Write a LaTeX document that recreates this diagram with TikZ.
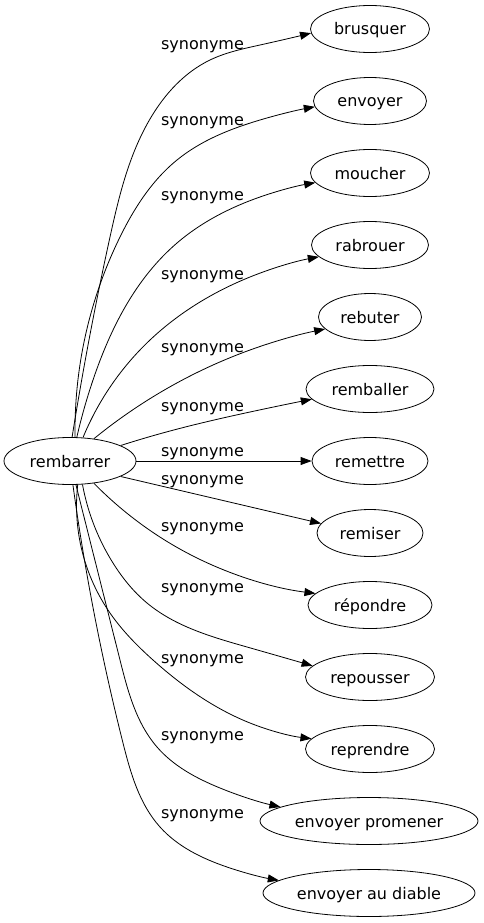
\documentclass[tikz,border=0pt]{standalone}
\usepackage{fontspec}
\setmainfont{DejaVu Sans}
\usetikzlibrary{shapes.geometric,arrows.meta,hobby}
\begin{document}
\begin{tikzpicture}[x=1pt,y=-1pt,
  every node/.style={font=\fontsize{16}{19}\selectfont},
  word/.style={ellipse, draw, line width=0.8pt, inner sep=0pt, minimum height=47pt, text height=12pt, text depth=0pt},
  rel/.style={anchor=base, inner sep=0pt},
  syn/.style={line width=0.8pt, -{Triangle[length=11pt,width=8pt]}},
]
\useasboundingbox (0,0) rectangle (484,923);
\node[word, minimum width=132pt] (src) at (70,461) {rembarrer};
\node[word, minimum width=119pt] (t1) at (370,29) {brusquer};
\node[word, minimum width=113pt] (t2) at (370,101) {envoyer};
\node[word, minimum width=119pt] (t3) at (370,173) {moucher};
\node[word, minimum width=117pt] (t4) at (370,245) {rabrouer};
\node[word, minimum width=103pt] (t5) at (370,317) {rebuter};
\node[word, minimum width=128pt] (t6) at (370,389) {remballer};
\node[word, minimum width=116pt] (t7) at (370,461) {remettre};
\node[word, minimum width=106pt] (t8) at (370,533) {remiser};
\node[word, minimum width=124pt] (t9) at (370,605) {répondre};
\node[word, minimum width=129pt] (t10) at (370,677) {repousser};
\node[word, minimum width=129pt] (t11) at (370,749) {reprendre};
\node[word, minimum width=218pt] (t12) at (369,821) {envoyer promener};
\node[word, minimum width=212pt] (t13) at (369,893) {envoyer au diable};

\draw[syn, use Hobby shortcut] (src.85) .. (110,237) .. (150,119) .. (210,60) .. (260,45) .. (t1.184);
\draw[syn, use Hobby shortcut] (src.78) .. (120,237) .. (177,160) .. (260,120) .. (t2.186);
\draw[syn, use Hobby shortcut] (src.74) .. (93,380) .. (177,243) .. (260,197) .. (t3.190);
\draw[syn, use Hobby shortcut] (src.61) .. (150,340) .. (250,277) .. (t4.193);
\draw[syn, use Hobby shortcut] (src.43) .. (137,407) .. (250,350) .. (t5.195);
\draw[syn, use Hobby shortcut] (src.17) .. (170,431) .. (250,412) .. (t6.190);
\draw[syn] (src.east) -- (t7.west);
\draw[syn] (src.-17) -- (t8.169);
\draw[syn, use Hobby shortcut] (src.-43) .. (123,510) .. (197,558) .. (t9.168);
\draw[syn, use Hobby shortcut] (src.-62) .. (113,563) .. (147,603) .. (247,647) .. (t10.169);
\draw[syn, use Hobby shortcut] (src.-72) .. (110,613) .. (153,660) .. (250,723) .. (t11.170);
\draw[syn, use Hobby shortcut] (src.-76) .. (120,660) .. (157,747) .. (220,788) .. (t12.171);
\draw[syn, use Hobby shortcut] (src.-83) .. (123,743) .. (160,827) .. (227,867) .. (t13.172);

\node[rel] (l1) at (202.5,50) {synonyme};
\node[rel] (l2) at (202.5,125) {synonyme};
\node[rel] (l3) at (202.5,200) {synonyme};
\node[rel] (l4) at (202.5,279) {synonyme};
\node[rel] (l5) at (202.5,352) {synonyme};
\node[rel] (l6) at (202.5,411) {synonyme};
\node[rel] (l7) at (202.5,456) {synonyme};
\node[rel] (l8) at (202.5,484) {synonyme};
\node[rel] (l9) at (202.5,531) {synonyme};
\node[rel] (l10) at (202.5,592) {synonyme};
\node[rel] (l11) at (202.5,663) {synonyme};
\node[rel] (l12) at (202.5,740) {synonyme};
\node[rel] (l13) at (202.5,818) {synonyme};
\end{tikzpicture}
\end{document}
